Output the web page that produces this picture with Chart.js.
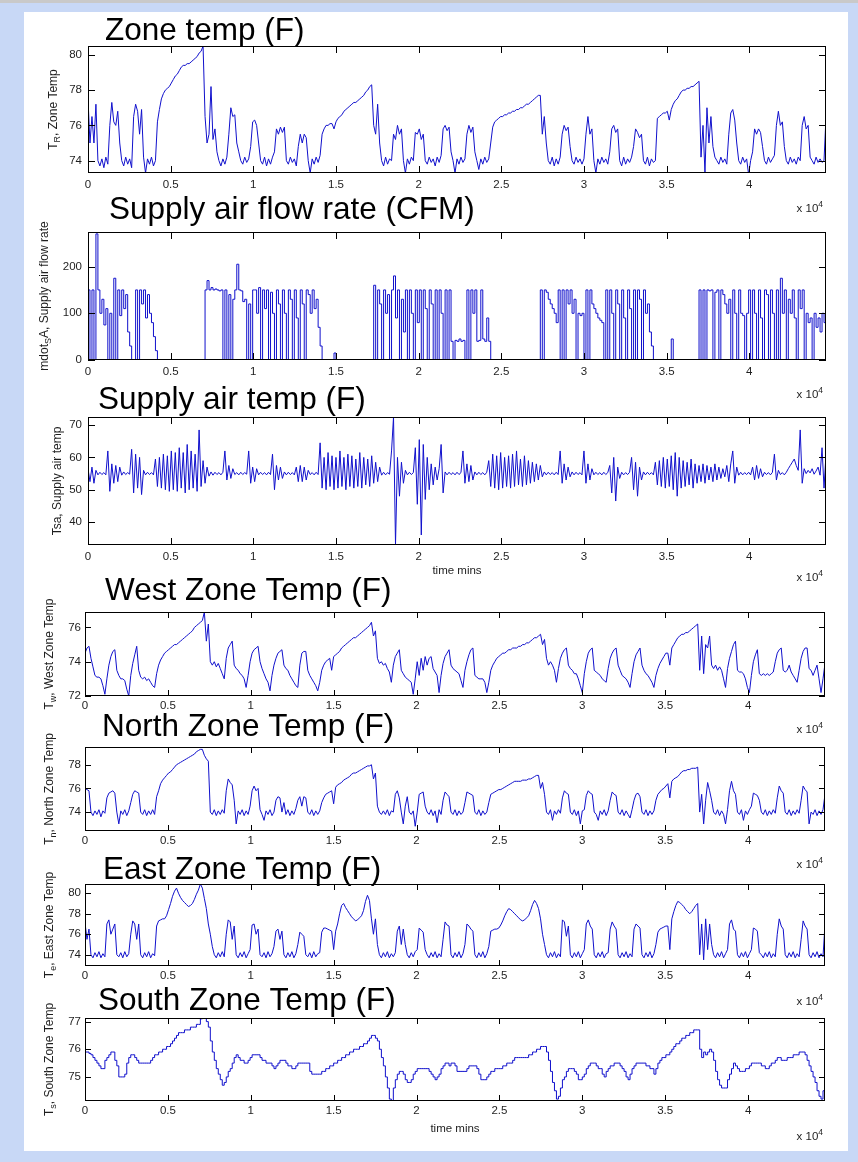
<!DOCTYPE html>
<html>
<head>
<meta charset="utf-8">
<title>Zone and supply air trends</title>
<script src="https://cdn.jsdelivr.net/npm/chart.js@4.4.1/dist/chart.umd.min.js"></script>
<style>
  html, body { margin: 0; padding: 0; }
  body {
    width: 858px; height: 1162px; position: relative; overflow: hidden;
    background: #c8d8f6;
    border-top: 3px solid #c9c9c9; box-sizing: border-box;
  }
  #sheet { position: absolute; left: 24px; top: 9px; width: 824px; height: 1139px; background: #fff; }
  canvas { position: absolute; left: 0; }
</style>
</head>
<body>
<div id="sheet"></div>
<script>
// one sample every 2 hours, 31 days = 44640 minutes
const STEP_MIN = 120;
const X_MAX = 44640;
const xTicks = [0, 5000, 10000, 15000, 20000, 25000, 30000, 35000, 40000];
const xTickLabels = ['0', '0.5', '1', '1.5', '2', '2.5', '3', '3.5', '4'];

const zoneTicks = [74, 76, 78, 80];
const flowTicks = [0, 100, 200];
const satTicks = [40, 50, 60, 70];
const westTicks = [72, 74, 76];
const northTicks = [74, 76, 78];
const eastTicks = [74, 76, 78, 80];
const southTicks = [75, 76, 77];

// one row per day (12 samples), last value is the end point
const zoneTemp = [
  77.5, 75.0, 76.5, 75.0, 77.2, 74.0, 73.7, 74.1, 73.6, 74.2, 73.8, 76.0,
  77.3, 76.2, 76.0, 76.8, 75.0, 74.0, 73.7, 74.2, 73.8, 74.1, 73.6, 76.5,
  77.2, 76.8, 75.5, 76.9, 74.2, 73.3, 74.1, 73.8, 74.2, 73.7, 74.0, 76.2,
  76.9, 77.5, 77.8, 78.0, 78.1, 78.2, 78.4, 78.6, 78.8, 78.9, 79.1, 79.3,
  79.4, 79.4, 79.5, 79.5, 79.6, 79.7, 79.8, 79.9, 80.1, 80.2, 80.5, 76.5,
  75.0, 75.5, 78.2, 75.2, 75.8, 74.5, 74.0, 73.7, 74.1, 73.8, 74.2, 75.5,
  77.0, 76.5, 76.6, 75.0, 74.5, 74.0, 73.8, 74.2, 73.9, 74.1, 74.8, 76.2,
  76.3, 76.0, 75.0, 74.0, 73.8, 74.2, 73.7, 74.1, 73.8, 74.2, 74.5, 75.8,
  75.5, 75.9, 75.6, 75.9, 74.0, 73.8, 74.2, 73.9, 74.1, 73.7, 74.8, 75.5,
  75.0, 75.5, 75.3, 74.0, 73.3, 74.1, 73.8, 74.2, 73.9, 74.3, 75.5, 75.8,
  76.0, 76.0, 76.1, 76.1, 75.8, 76.2, 76.4, 76.5, 76.6, 76.8, 76.9, 77.0,
  77.1, 77.2, 77.3, 77.3, 77.4, 77.5, 77.6, 77.7, 77.9, 78.0, 78.2, 78.3,
  76.0, 75.5, 77.2, 75.0, 74.0, 73.7, 74.2, 73.8, 74.1, 74.0, 75.5, 75.2,
  76.0, 75.5, 75.8, 74.0, 73.3, 74.1, 73.8, 74.2, 74.0, 75.6, 75.5, 75.8,
  75.2, 75.5, 74.0, 73.8, 74.2, 73.9, 74.1, 73.7, 74.2, 73.9, 74.3, 75.8,
  76.0, 75.7, 75.9, 74.5, 74.0, 73.3, 74.1, 73.8, 74.2, 73.9, 74.1, 75.5,
  76.0, 75.6, 75.9, 74.5, 74.0, 73.5, 74.1, 73.8, 74.2, 73.9, 74.1, 75.0,
  75.9, 76.2, 76.3, 76.4, 76.5, 76.5, 76.6, 76.6, 76.7, 76.7, 76.8, 76.8,
  76.9, 76.9, 77.0, 77.0, 77.1, 77.2, 77.2, 77.3, 77.4, 77.5, 77.6, 77.7,
  77.7, 75.5, 76.5, 75.0, 74.0, 73.8, 74.2, 73.7, 74.1, 73.8, 74.2, 75.5,
  76.0, 75.7, 75.9, 74.8, 74.0, 73.8, 74.2, 73.9, 74.1, 73.8, 74.1, 75.5,
  76.5, 75.5, 75.8, 74.0, 73.3, 74.1, 73.8, 74.2, 73.9, 74.1, 73.8, 74.5,
  75.8, 76.0, 75.6, 75.8, 74.0, 73.7, 74.2, 73.8, 74.1, 73.9, 74.2, 74.8,
  75.8, 75.6, 75.3, 75.5, 74.0, 73.8, 74.2, 73.7, 74.1, 73.9, 74.0, 76.4,
  76.5, 76.6, 76.7, 76.7, 76.8, 76.3, 76.9, 77.2, 77.4, 77.5, 77.7, 77.9,
  78.0, 78.0, 78.1, 78.1, 78.2, 78.2, 78.3, 78.4, 78.5, 74.2, 76.0, 73.3,
  77.0, 75.0, 76.5, 74.8, 74.2, 74.0, 73.8, 74.2, 73.9, 74.1, 73.8, 75.5,
  76.7, 76.9, 76.3, 75.0, 74.0, 73.8, 74.2, 73.9, 74.1, 73.2, 74.0, 74.5,
  75.8, 75.5, 75.8, 75.6, 74.8, 74.0, 73.8, 74.2, 73.9, 74.1, 74.3, 76.0,
  76.8, 76.0, 76.2, 74.8, 74.0, 73.8, 74.2, 73.9, 74.1, 73.8, 74.2, 74.0,
  76.0, 76.5, 75.8, 76.0, 74.2, 74.0, 73.8, 74.2, 73.9, 74.1, 73.9, 74.0,
  76.5
];

const supplyFlow = [
  150, 0, 150, 0, 270, 150, 100, 130, 75, 110, 0, 100,
  0, 175, 0, 150, 95, 150, 110, 140, 60, 30, 0, 0,
  150, 0, 150, 120, 150, 90, 140, 100, 80, 50, 20, 0,
  0, 0, 0, 0, 0, 0, 0, 0, 0, 0, 0, 0,
  0, 0, 0, 0, 0, 0, 0, 0, 0, 0, 0, 150,
  170, 150, 155, 150, 152, 150, 148, 150, 0, 150, 0, 140,
  0, 130, 150, 205, 150, 148, 125, 130, 0, 120, 0, 150,
  150, 100, 155, 0, 150, 110, 150, 0, 145, 100, 0, 150,
  120, 0, 150, 100, 0, 150, 130, 0, 150, 90, 0, 150,
  120, 0, 150, 140, 100, 150, 110, 130, 70, 30, 0, 0,
  0, 0, 0, 0, 15, 0, 0, 0, 0, 0, 0, 0,
  0, 0, 0, 0, 0, 0, 0, 0, 0, 0, 0, 0,
  160, 0, 150, 120, 0, 150, 100, 140, 0, 150, 180, 90,
  150, 0, 130, 60, 150, 0, 150, 100, 0, 150, 80, 150,
  0, 150, 110, 0, 150, 120, 0, 150, 0, 150, 100, 0,
  150, 0, 150, 40, 0, 42, 40, 45, 40, 42, 0, 150,
  0, 150, 100, 150, 40, 42, 150, 45, 40, 90, 40, 0,
  0, 0, 0, 0, 0, 0, 0, 0, 0, 0, 0, 0,
  0, 0, 0, 0, 0, 0, 0, 0, 0, 0, 0, 0,
  150, 0, 150, 145, 130, 120, 110, 100, 80, 150, 0, 150,
  0, 150, 120, 150, 100, 130, 0, 100, 95, 100, 0, 150,
  0, 150, 120, 110, 100, 90, 85, 80, 0, 150, 0, 150,
  100, 0, 150, 120, 0, 150, 90, 0, 150, 110, 0, 150,
  0, 150, 130, 0, 150, 100, 120, 60, 30, 0, 0, 0,
  0, 0, 0, 0, 0, 0, 45, 0, 0, 0, 0, 0,
  0, 0, 0, 0, 0, 0, 0, 0, 150, 0, 150, 0,
  150, 148, 150, 0, 145, 150, 0, 150, 140, 120, 100, 130,
  0, 150, 100, 0, 150, 100, 95, 0, 100, 150, 0, 150,
  100, 0, 150, 90, 0, 150, 140, 0, 150, 100, 0, 150,
  0, 175, 100, 150, 0, 130, 100, 150, 90, 0, 150, 110,
  150, 0, 100, 80, 90, 0, 100, 70, 90, 60, 100, 80,
  100
];

const supplyTemp = [
  56.5, 52.5, 57.0, 52.0, 56.0, 54.6, 55.4, 54.7, 55.3, 54.6, 62.0, 49.5,
  58.0, 52.0, 57.5, 52.5, 57.0, 54.5, 55.5, 54.7, 55.3, 54.8, 62.5, 49.0,
  61.0, 50.5, 60.0, 48.5, 56.0, 54.6, 55.4, 54.7, 55.3, 54.6, 59.5, 51.0,
  60.0, 50.5, 61.0, 50.0, 60.5, 49.5, 62.0, 50.0, 61.5, 49.5, 63.0, 50.5,
  61.5, 49.0, 64.0, 50.0, 62.0, 50.5, 61.0, 49.5, 68.5, 51.0, 59.0, 52.0,
  57.0, 54.2, 55.5, 54.5, 55.4, 54.7, 55.3, 54.6, 55.4, 62.0, 53.0, 57.5,
  53.5, 56.5, 54.7, 55.3, 54.6, 55.4, 54.7, 55.3, 54.8, 62.0, 52.0, 57.0,
  52.5, 56.5, 54.6, 55.4, 54.7, 55.3, 54.6, 55.4, 54.7, 61.0, 50.0, 57.5,
  53.0, 57.0, 53.5, 55.5, 54.6, 55.4, 54.7, 55.3, 54.6, 57.0, 52.5, 57.5,
  52.5, 57.0, 53.0, 56.0, 54.7, 55.3, 54.6, 55.4, 54.7, 64.5, 50.5, 60.0,
  50.0, 61.5, 51.0, 60.5, 50.0, 60.0, 50.5, 62.0, 51.0, 60.0, 50.0, 61.0,
  51.0, 60.5, 50.5, 59.5, 51.0, 61.5, 50.5, 60.0, 51.5, 59.5, 51.0, 60.5,
  52.0, 58.5, 52.5, 57.0, 54.5, 55.4, 54.6, 55.3, 54.8, 62.0, 72.5, 33.0,
  60.0, 48.0, 58.5, 52.0, 56.0, 54.6, 55.4, 54.7, 55.3, 63.0, 45.5, 65.5,
  36.0, 64.0, 47.0, 60.0, 50.0, 58.0, 51.5, 57.0, 53.0, 56.5, 64.0, 49.0,
  55.5, 54.6, 55.4, 54.7, 55.3, 54.6, 55.4, 54.7, 55.3, 62.0, 52.0, 58.0,
  52.5, 57.5, 53.0, 55.5, 54.6, 55.4, 54.7, 55.3, 54.6, 55.4, 59.0, 51.0,
  61.0, 50.5, 60.5, 50.0, 61.5, 50.5, 60.0, 51.0, 60.5, 50.5, 61.0, 51.0,
  62.0, 51.5, 59.5, 51.0, 60.5, 51.5, 59.0, 52.0, 58.5, 52.5, 58.0, 53.0,
  57.5, 54.0, 55.5, 54.6, 55.4, 54.7, 55.3, 54.6, 55.4, 54.7, 62.0, 52.0,
  58.0, 53.0, 57.0, 54.0, 55.5, 54.6, 55.4, 54.7, 55.3, 54.6, 62.0, 52.0,
  58.0, 53.0, 56.5, 54.6, 55.4, 54.7, 55.3, 54.6, 55.4, 54.7, 55.3, 57.5,
  49.0, 60.0, 46.5, 57.0, 53.5, 55.4, 54.6, 55.3, 54.7, 55.4, 60.0, 50.0,
  58.5, 48.0, 57.0, 53.0, 55.5, 54.6, 55.4, 54.7, 55.3, 54.6, 58.5, 51.5,
  59.0, 51.0, 60.0, 50.5, 59.5, 51.0, 60.5, 50.0, 61.5, 48.0, 60.0, 50.5,
  59.0, 51.0, 58.5, 51.5, 59.5, 50.5, 58.0, 52.0, 57.5, 52.5, 58.0, 52.0,
  57.5, 53.0, 57.0, 52.5, 58.0, 53.0, 57.0, 53.5, 56.5, 54.0, 57.5, 52.5,
  58.0, 62.0, 52.0, 57.0, 54.5, 55.4, 54.6, 55.3, 54.7, 55.4, 54.6, 57.0,
  53.0, 57.5, 53.5, 56.5, 54.0, 55.4, 54.7, 55.3, 54.6, 55.4, 61.0, 53.0,
  56.0, 54.7, 55.3, 54.6, 55.4, 56.5, 57.5, 58.5, 59.5, 57.5, 56.0, 68.5,
  52.0, 56.5, 55.0, 56.0, 55.2, 56.5, 54.8, 55.8, 57.0, 54.5, 63.0, 50.5,
  61.0
];

const westTemp = [
  74.5, 74.8, 74.9, 74.2, 73.7, 73.2, 73.1, 73.1, 73.0, 72.6, 72.1, 73.0,
  73.8, 74.3, 74.6, 74.7, 73.5, 73.2, 73.0, 73.0, 72.9, 72.4, 72.0, 73.2,
  73.9, 74.4, 74.9, 73.5, 73.1, 73.0, 73.1, 72.9, 73.0, 72.8, 72.6, 72.5,
  73.3, 73.8, 74.1, 74.3, 74.5, 74.6, 74.7, 74.8, 74.9, 75.0, 75.0, 75.1,
  75.2, 75.3, 75.4, 75.5, 75.6, 75.7, 75.8, 76.0, 76.1, 76.2, 76.3, 76.4,
  76.9, 75.2, 76.2, 74.0, 73.8, 74.0, 73.7, 73.9, 73.6, 73.3, 73.0, 74.2,
  74.8, 75.0, 75.2, 73.8, 73.6, 73.5, 73.3, 73.2, 73.0, 72.5, 73.2, 74.0,
  74.5, 74.7, 74.8, 74.9, 74.0, 73.6, 73.3, 73.0, 72.8, 72.3, 73.2, 73.8,
  74.2, 74.5, 74.6, 74.7, 73.8, 73.6, 73.5, 73.2, 73.0, 72.8, 72.6, 72.5,
  73.8, 74.5, 74.6, 74.6, 73.5, 73.2, 73.0, 72.8, 72.6, 72.3, 72.8, 73.5,
  73.8, 74.0, 74.1, 74.2, 73.5, 74.3, 74.4, 74.5, 74.6, 74.8, 74.9, 75.0,
  75.1, 75.2, 75.3, 75.4, 75.4, 75.5, 75.6, 75.7, 75.8, 75.9, 76.0, 76.1,
  76.3, 75.5, 75.8, 74.2, 73.9, 74.0, 73.8, 73.9, 73.6, 73.4, 72.8, 73.8,
  74.3, 74.5, 74.7, 73.5, 73.3, 73.1, 73.0, 72.9, 72.8, 72.1, 73.0, 74.0,
  73.2, 74.2, 73.5, 74.3, 73.8, 74.2, 74.3, 73.6, 73.4, 73.2, 72.2, 73.2,
  73.9, 74.3, 74.5, 74.7, 73.8, 73.6, 73.5, 73.4, 73.3, 72.9, 72.5, 73.5,
  74.0, 74.4, 74.7, 74.8, 73.2, 73.1, 73.0, 73.0, 73.0, 72.8, 72.2, 72.8,
  73.5, 73.8, 74.0, 74.2, 74.3, 74.4, 74.5, 74.5, 74.6, 74.7, 74.7, 74.8,
  74.8, 74.8, 74.9, 74.9, 75.0, 75.0, 75.1, 75.1, 75.2, 75.3, 75.4, 75.4,
  75.5, 75.6, 75.0, 75.3, 74.2, 73.8, 74.0, 73.8, 73.5, 72.8, 73.6, 74.2,
  74.5, 74.7, 74.8, 73.8, 73.6, 73.5, 73.3, 73.3, 73.0, 72.6, 72.2, 73.3,
  74.0, 74.5, 74.7, 74.8, 73.5, 73.4, 73.3, 73.2, 73.0, 72.9, 72.8, 73.6,
  74.2, 74.5, 74.7, 74.8, 73.8, 73.5, 73.2, 73.1, 73.0, 72.8, 72.5, 73.3,
  74.0, 74.4, 74.6, 74.8, 73.8, 73.5, 73.3, 73.2, 73.0, 72.8, 72.5, 73.2,
  73.6, 73.9, 74.1, 74.3, 74.5, 74.5, 73.8, 74.8, 75.0, 75.2, 75.4, 75.5,
  75.6, 75.6, 75.7, 75.7, 75.8, 75.9, 76.0, 76.1, 76.2, 73.5, 75.5, 73.3,
  75.0, 74.8, 75.5, 73.8, 73.6, 73.8, 73.5, 73.7, 73.5, 73.0, 72.5, 73.6,
  74.2, 74.6, 75.0, 75.2, 73.5, 73.4, 73.4, 73.3, 73.0, 72.5, 72.2, 73.2,
  74.0, 74.4, 74.7, 73.3, 73.2, 73.3, 73.2, 73.3, 73.2, 73.3, 73.4, 74.0,
  74.5, 74.7, 74.8, 73.5, 73.4, 73.5, 73.8, 73.4, 73.2, 73.0, 72.8, 73.5,
  74.2, 74.6, 74.8, 74.8, 73.6, 73.5, 73.2, 73.5, 73.8, 73.0, 72.2, 73.0,
  73.9
];

const northTemp = [
  76.0, 75.9, 75.8, 74.0, 73.7, 74.1, 73.8, 74.2, 73.6, 74.1, 73.9, 75.2,
  75.6, 75.7, 75.8, 75.6, 74.0, 73.0, 74.1, 73.8, 74.2, 73.7, 74.1, 74.8,
  75.5, 75.8, 75.7, 75.6, 74.0, 73.8, 74.2, 73.7, 74.1, 73.8, 74.2, 73.8,
  75.3, 75.8, 76.4, 76.7, 76.9, 77.1, 77.3, 77.4, 77.6, 77.8, 78.0, 78.1,
  78.2, 78.3, 78.4, 78.5, 78.6, 78.7, 78.8, 78.9, 79.1, 79.2, 79.3, 79.3,
  78.8, 78.5, 78.3, 74.0, 73.8, 74.2, 73.7, 74.1, 73.8, 74.2, 73.9, 75.8,
  76.8, 76.5, 76.3, 75.0, 73.0, 74.1, 73.8, 74.2, 73.7, 74.1, 73.8, 74.5,
  75.8, 76.2, 75.8, 76.0, 74.2, 73.8, 73.3, 74.1, 73.8, 74.2, 73.7, 74.0,
  75.0, 75.3, 75.2, 74.0, 74.8, 73.8, 74.2, 73.7, 74.1, 73.8, 74.3, 75.0,
  75.3, 74.5, 75.3, 75.2, 74.0, 73.8, 74.2, 73.7, 74.1, 73.8, 74.1, 74.8,
  75.2, 75.5, 75.6, 75.7, 75.8, 74.7, 76.1, 76.3, 76.4, 76.5, 76.7, 76.8,
  76.9, 77.0, 77.2, 77.3, 77.3, 77.4, 77.5, 77.6, 77.7, 77.8, 77.9, 77.9,
  78.0, 76.8, 77.3, 74.5, 74.0, 73.8, 74.1, 73.8, 74.2, 73.7, 74.1, 74.0,
  75.5, 75.8, 75.2, 74.0, 73.0, 74.5, 75.3, 74.0, 73.8, 74.1, 72.8, 74.0,
  75.5, 75.6, 75.7, 74.5, 74.0, 73.8, 74.2, 73.7, 74.1, 73.1, 74.2, 73.8,
  75.0, 75.7, 75.5, 75.3, 74.0, 73.8, 74.2, 73.7, 74.1, 73.8, 74.0, 74.8,
  75.7, 75.6, 75.5, 75.4, 74.0, 73.8, 74.2, 73.7, 74.1, 73.8, 74.0, 74.8,
  75.5, 75.6, 75.7, 75.8, 75.9, 75.9, 76.0, 76.1, 76.2, 76.3, 76.4, 76.5,
  76.6, 76.6, 76.6, 76.6, 76.7, 76.7, 76.7, 76.8, 76.8, 76.9, 77.0, 77.1,
  77.1, 76.0, 76.5, 75.5, 74.0, 73.8, 74.2, 73.3, 74.1, 73.8, 74.2, 73.9,
  75.2, 75.8, 75.6, 75.5, 74.0, 73.8, 74.2, 73.7, 74.1, 73.0, 74.1, 74.2,
  75.4, 75.8, 75.6, 75.5, 74.0, 73.8, 73.3, 74.1, 73.8, 74.2, 73.7, 74.1,
  75.0, 75.7, 75.5, 75.4, 74.0, 73.8, 74.2, 73.7, 74.1, 73.8, 73.5, 74.2,
  75.0, 75.5, 75.6, 75.3, 74.0, 73.8, 74.2, 73.7, 74.1, 73.8, 74.1, 75.0,
  75.5, 75.7, 75.9, 76.0, 76.2, 76.4, 75.2, 76.6, 76.8, 76.9, 77.0, 77.2,
  77.4, 77.5, 77.5, 77.6, 77.6, 77.7, 77.7, 77.7, 77.8, 74.0, 75.5, 73.0,
  75.0, 76.5, 75.8, 75.0, 74.0, 73.8, 74.2, 73.7, 74.1, 73.8, 73.0, 74.2,
  75.8, 76.6, 75.8, 75.5, 74.0, 73.8, 74.2, 73.3, 74.1, 73.8, 74.2, 74.5,
  75.6, 75.5, 75.4, 75.0, 74.0, 73.8, 74.2, 73.7, 74.1, 73.8, 74.2, 73.9,
  75.2, 76.2, 75.8, 75.6, 74.0, 73.8, 74.2, 73.7, 74.1, 73.8, 74.2, 73.9,
  75.0, 76.2, 75.9, 75.7, 73.0, 74.0, 73.8, 74.2, 73.7, 74.1, 73.8, 74.2,
  75.5
];

const eastTemp = [
  77.1, 75.5, 76.5, 74.0, 73.7, 74.2, 73.8, 74.3, 73.7, 74.1, 73.8, 77.0,
  77.4, 76.0, 76.5, 77.0, 74.0, 73.8, 74.2, 73.7, 74.3, 73.8, 74.1, 76.0,
  77.3, 77.0, 75.5, 77.0, 74.0, 73.7, 74.2, 73.8, 74.3, 73.7, 74.1, 73.9,
  76.8, 77.3, 77.4, 77.5, 77.5, 77.8, 78.4, 79.0, 79.7, 80.2, 80.5, 80.0,
  79.6, 79.3, 79.1, 78.9, 78.7, 78.8, 79.0, 79.4, 79.9, 80.3, 80.9, 80.5,
  79.5, 78.5, 77.0, 76.0, 74.8, 74.0, 73.7, 74.2, 73.8, 74.3, 73.8, 76.0,
  77.4, 77.2, 75.5, 76.8, 74.0, 73.7, 74.2, 73.8, 74.3, 73.7, 74.1, 74.5,
  76.9, 77.0, 76.0, 76.5, 74.0, 73.8, 74.2, 73.7, 74.3, 73.8, 74.1, 74.8,
  76.3, 76.5, 75.5, 76.3, 74.0, 73.7, 74.2, 73.8, 74.3, 73.7, 74.1, 75.0,
  76.2, 76.0, 75.8, 74.0, 73.8, 74.2, 73.7, 74.3, 73.8, 74.1, 74.2, 76.2,
  76.6, 76.6, 76.5, 76.4, 76.3, 74.5, 76.3, 77.0, 78.0, 78.8, 79.0, 78.6,
  78.3, 78.0, 77.7, 77.5, 77.3, 77.4, 77.6, 77.8, 78.3, 79.2, 79.8, 79.3,
  77.5, 76.0, 77.5, 75.0, 74.0, 73.7, 74.2, 73.8, 74.3, 73.7, 74.1, 73.8,
  74.2, 76.3, 76.8, 75.0, 76.5, 75.0, 74.0, 73.7, 74.2, 73.8, 74.3, 74.5,
  76.6, 76.4, 76.2, 74.5, 74.0, 73.7, 74.2, 73.8, 74.3, 73.7, 74.1, 73.8,
  75.5, 77.2, 76.9, 76.8, 74.0, 73.7, 74.2, 73.8, 74.3, 73.7, 74.1, 75.0,
  77.0, 76.8, 76.5, 76.3, 74.0, 73.7, 74.2, 73.8, 74.3, 73.7, 74.1, 74.8,
  76.3, 76.4, 76.5, 76.5, 76.6, 76.9, 77.3, 77.8, 78.2, 78.5, 78.4, 78.2,
  78.0, 77.8, 77.6, 77.4, 77.3, 77.4, 77.6, 77.8, 78.3, 78.9, 79.3, 79.0,
  78.5, 77.5, 76.0, 75.0, 74.0, 73.7, 74.2, 73.8, 74.3, 73.7, 74.1, 73.8,
  77.4, 77.2, 75.8, 76.8, 74.0, 73.7, 74.2, 73.8, 74.3, 73.7, 74.1, 74.5,
  77.0, 77.4, 76.8, 76.5, 74.0, 73.7, 74.2, 73.8, 74.3, 73.7, 74.1, 74.2,
  76.5, 77.2, 76.8, 76.5, 74.0, 73.7, 74.2, 73.8, 74.3, 73.7, 74.1, 73.8,
  76.5, 77.0, 76.8, 76.6, 74.0, 73.7, 74.2, 73.8, 74.3, 73.7, 74.1, 75.0,
  76.2, 76.5, 76.6, 76.7, 76.8, 76.8, 74.5, 77.5, 78.2, 78.8, 79.2, 79.1,
  78.9, 78.7, 78.4, 78.2, 78.0, 78.2, 78.5, 78.8, 79.0, 74.0, 77.0, 73.5,
  77.5, 74.5, 77.0, 75.0, 74.0, 73.7, 74.2, 73.8, 74.3, 73.7, 74.1, 74.5,
  77.0, 77.4, 76.5, 76.3, 74.0, 73.7, 74.2, 73.8, 74.3, 73.7, 74.1, 74.5,
  76.6, 76.5, 76.3, 74.2, 74.0, 73.7, 74.2, 73.8, 74.3, 73.7, 74.1, 73.8,
  76.0, 77.5, 76.8, 76.5, 74.0, 73.7, 74.2, 73.8, 74.3, 73.7, 74.1, 73.8,
  75.5, 77.3, 76.8, 76.5, 74.0, 73.7, 74.2, 73.8, 74.3, 73.7, 74.1, 73.8,
  77.0
];

const southTemp = [
  75.9, 75.9, 75.85, 75.8, 75.7, 75.6, 75.5, 75.4, 75.3, 75.3, 75.6, 75.7,
  75.8, 75.9, 75.9, 75.6, 75.4, 75.0, 75.0, 75.0, 75.1, 75.5, 75.7, 75.8,
  75.8, 75.7, 75.6, 75.5, 75.5, 75.5, 75.5, 75.5, 75.5, 75.6, 75.7, 75.8,
  75.8, 75.9, 75.9, 76.0, 76.0, 76.1, 76.1, 76.2, 76.3, 76.4, 76.5, 76.6,
  76.6, 76.6, 76.7, 76.7, 76.7, 76.8, 76.8, 76.8, 76.9, 76.9, 77.1, 77.2,
  77.2, 77.0, 76.8, 76.3, 75.9, 75.6, 75.3, 75.1, 74.9, 74.7, 74.8, 75.0,
  75.2, 75.3, 75.5, 75.7, 75.8, 75.7, 75.6, 75.6, 75.5, 75.5, 75.6, 75.7,
  75.8, 75.8, 75.8, 75.8, 75.7, 75.6, 75.6, 75.5, 75.5, 75.5, 75.4, 75.3,
  75.4, 75.5, 75.6, 75.6, 75.6, 75.5, 75.4, 75.4, 75.3, 75.3, 75.4, 75.5,
  75.5, 75.5, 75.5, 75.5, 75.5, 75.2, 75.1, 75.1, 75.1, 75.1, 75.1, 75.2,
  75.2, 75.3, 75.3, 75.4, 75.4, 75.5, 75.5, 75.6, 75.6, 75.7, 75.7, 75.8,
  75.8, 75.9, 75.9, 76.0, 76.0, 76.0, 76.1, 76.1, 76.2, 76.2, 76.3, 76.4,
  76.5, 76.5, 76.4, 76.3, 76.0, 75.7, 75.4, 75.0, 74.6, 74.2, 74.1, 74.6,
  74.9, 75.1, 75.2, 75.2, 75.1, 74.9, 74.8, 74.8, 74.9, 75.1, 75.2, 75.3,
  75.3, 75.3, 75.3, 75.3, 75.3, 75.2, 75.1, 75.0, 74.9, 75.0, 75.1, 75.3,
  75.4, 75.5, 75.5, 75.4, 75.5, 75.5, 75.4, 75.2, 75.2, 75.2, 75.2, 75.2,
  75.3, 75.4, 75.4, 75.4, 75.4, 75.3, 75.1, 74.9, 74.9, 74.9, 75.0, 75.1,
  75.2, 75.2, 75.3, 75.3, 75.3, 75.3, 75.4, 75.4, 75.5, 75.5, 75.5, 75.6,
  75.7, 75.7, 75.7, 75.7, 75.7, 75.7, 75.7, 75.8, 75.8, 75.9, 75.9, 76.0,
  76.0, 76.1, 76.1, 76.1, 75.9, 75.6, 75.2, 74.8, 74.5, 74.2, 74.3, 74.6,
  74.9, 75.0, 75.2, 75.3, 75.3, 75.3, 75.2, 75.1, 74.9, 74.9, 75.0, 75.1,
  75.3, 75.4, 75.5, 75.5, 75.5, 75.4, 75.3, 75.3, 75.1, 75.0, 75.2, 75.3,
  75.4, 75.4, 75.5, 75.5, 75.5, 75.4, 75.3, 75.2, 75.0, 74.9, 75.1, 75.3,
  75.4, 75.5, 75.5, 75.5, 75.5, 75.5, 75.4, 75.4, 75.3, 75.3, 75.1, 75.3,
  75.5, 75.6, 75.7, 75.7, 75.8, 75.8, 75.9, 76.0, 76.1, 76.2, 76.2, 76.3,
  76.4, 76.4, 76.5, 76.5, 76.6, 76.6, 76.7, 76.7, 76.7, 76.0, 75.7, 75.9,
  75.8, 75.9, 76.0, 75.9, 75.6, 75.2, 74.9, 74.7, 74.6, 74.6, 74.6, 74.9,
  75.1, 75.3, 75.5, 75.4, 75.3, 75.2, 75.2, 75.2, 75.3, 75.3, 75.4, 75.5,
  75.5, 75.5, 75.5, 75.5, 75.4, 75.4, 75.3, 75.3, 75.4, 75.5, 75.5, 75.6,
  75.7, 75.7, 75.6, 75.6, 75.6, 75.7, 75.7, 75.7, 75.8, 75.8, 75.8, 75.9,
  75.9, 75.9, 75.8, 75.6, 75.4, 75.2, 75.0, 74.8, 74.5, 74.3, 74.2, 74.5,
  74.9
];

const FONT_FAMILY = '"Liberation Sans", Arial, Helvetica, sans-serif';
const LINE_COLOR = '#1010cc';
const TEXT_COLOR = '#1e1e1e';
const TICK_FONT = { family: FONT_FAMILY, size: 11.5 };

// box = [left, top, right, bottom] of each axes in page pixels
const panels = [
  { title: 'Zone temp (F)', series: zoneTemp, yMin: 73.3, yMax: 80.5, yTicks: zoneTicks,
    yLabel: ['T', 'R', ', Zone Temp'], box: [88, 43, 826, 170], titleAt: [105, 37],
    labelX: 57, multY: 209, tick: 7, xPad: 5, yPad: 6, stepped: false },
  { title: 'Supply air flow rate (CFM)', series: supplyFlow, yMin: 0, yMax: 274, yTicks: flowTicks,
    yLabel: ['mdot', 'S', 'A, Supply air flow rate'], box: [88, 229, 826, 357], titleAt: [109, 216],
    labelX: 47.5, multY: 395, tick: 7, xPad: 5, yPad: 6, stepped: true },
  { title: 'Supply air temp (F)', series: supplyTemp, yMin: 32.9, yMax: 72.5, yTicks: satTicks,
    yLabel: ['Tsa, Supply air temp', '', ''], box: [88, 414, 826, 542], titleAt: [98, 406],
    labelX: 60.5, multY: 578, tick: 7, xPad: 5, yPad: 6, xTitleY: 568, stepped: false },
  { title: 'West Zone Temp (F)', series: westTemp, yMin: 72, yMax: 76.9, yTicks: westTicks,
    yLabel: ['T', 'w', ', West Zone Temp'], box: [85, 609, 825, 693], titleAt: [105, 597],
    labelX: 53, multY: 730, tick: 6, xPad: 3, yPad: 4, stepped: false },
  { title: 'North Zone Temp (F)', series: northTemp, yMin: 72.4, yMax: 79.5, yTicks: northTicks,
    yLabel: ['T', 'n', ', North Zone Temp'], box: [85, 744, 825, 828], titleAt: [102, 733],
    labelX: 53, multY: 865, tick: 6, xPad: 3, yPad: 4, stepped: false },
  { title: 'East Zone Temp (F)', series: eastTemp, yMin: 72.9, yMax: 80.9, yTicks: eastTicks,
    yLabel: ['T', 'e', ', East Zone Temp'], box: [85, 881, 825, 963], titleAt: [103, 876],
    labelX: 53, multY: 1002, tick: 6, xPad: 3, yPad: 4, stepped: false },
  { title: 'South Zone Temp (F)', series: southTemp, yMin: 74.13, yMax: 77.13, yTicks: southTicks,
    yLabel: ['T', 's', ', South Zone Temp'], box: [85, 1015, 825, 1098], titleAt: [98, 1007],
    labelX: 53, multY: 1137, tick: 6, xPad: 3, yPad: 4, xTitleY: 1126, stepped: true }
];

// MATLAB look: closed box, inward ticks, big title, subscripted y label, x 10^4 note
const matlabFrame = {
  id: 'matlabFrame',
  afterDraw(chart, args, opts) {
    const { ctx, chartArea: a } = chart;
    const xs = chart.scales.x, ys = chart.scales.y;
    const p = opts.panel, off = opts.canvasTop;
    ctx.save();
    ctx.strokeStyle = '#000';
    ctx.lineWidth = 1;
    ctx.strokeRect(a.left + 0.5, a.top + 0.5, a.right - a.left - 1, a.bottom - a.top - 1);

    ctx.beginPath();
    xTicks.forEach(v => {
      const px = Math.round(xs.getPixelForValue(v)) + 0.5;
      ctx.moveTo(px, a.bottom); ctx.lineTo(px, a.bottom - p.tick);
      ctx.moveTo(px, a.top); ctx.lineTo(px, a.top + p.tick);
    });
    p.yTicks.forEach(v => {
      const py = Math.round(ys.getPixelForValue(v)) + 0.5;
      ctx.moveTo(a.left, py); ctx.lineTo(a.left + p.tick, py);
      ctx.moveTo(a.right, py); ctx.lineTo(a.right - p.tick, py);
    });
    ctx.stroke();

    ctx.fillStyle = '#000';
    ctx.textAlign = 'left';
    ctx.textBaseline = 'alphabetic';
    ctx.font = '31.5px ' + FONT_FAMILY;
    ctx.fillText(p.title, p.titleAt[0], p.titleAt[1] - off);

    // rotated y label with optional subscript
    ctx.fillStyle = TEXT_COLOR;
    const [main, sub, rest] = p.yLabel;
    const bigF = '12px ' + FONT_FAMILY, subF = '9px ' + FONT_FAMILY;
    ctx.font = bigF; const w1 = ctx.measureText(main).width, w3 = ctx.measureText(rest).width;
    ctx.font = subF; const w2 = sub ? ctx.measureText(sub).width : 0;
    ctx.save();
    ctx.translate(p.labelX, (a.top + a.bottom) / 2);
    ctx.rotate(-Math.PI / 2);
    let tx = -(w1 + w2 + w3) / 2;
    ctx.font = bigF; ctx.fillText(main, tx, 0); tx += w1;
    if (sub) { ctx.font = subF; ctx.fillText(sub, tx, 3); tx += w2; }
    ctx.font = bigF; ctx.fillText(rest, tx, 0);
    ctx.restore();

    // x 10^4 multiplier
    ctx.textAlign = 'right';
    ctx.font = '8.5px ' + FONT_FAMILY;
    const supW = ctx.measureText('4').width;
    ctx.fillText('4', 823, p.multY - off - 5);
    ctx.font = '11.5px ' + FONT_FAMILY;
    ctx.fillText('x 10', 823 - supW, p.multY - off);

    if (p.xTitleY) {
      ctx.textAlign = 'center';
      ctx.textBaseline = 'middle';
      ctx.fillText('time mins', (a.left + a.right) / 2, p.xTitleY - off);
    }
    ctx.restore();
  }
};

function makePanel(p) {
  const [left, top, right, bottom] = p.box;
  const canvasTop = top - 50;
  const canvasH = bottom - top + 100;
  const canvas = document.createElement('canvas');
  canvas.width = 858;
  canvas.height = canvasH;
  canvas.style.top = canvasTop + 'px';
  canvas.style.width = '858px';
  canvas.style.height = canvasH + 'px';
  document.body.appendChild(canvas);

  return new Chart(canvas, {
    type: 'line',
    data: {
      datasets: [{
        data: p.series.map((v, i) => ({ x: i * STEP_MIN, y: v })),
        borderColor: LINE_COLOR,
        borderWidth: 1,
        pointRadius: 0,
        tension: 0,
        stepped: p.stepped,
        fill: false
      }]
    },
    options: {
      responsive: false,
      animation: false,
      devicePixelRatio: 1,
      parsing: false,
      normalized: true,
      events: [],
      layout: { padding: { left: 0, top: top - canvasTop, right: 858 - right, bottom: 0 } },
      plugins: {
        legend: { display: false },
        tooltip: { enabled: false },
        matlabFrame: { panel: p, canvasTop: canvasTop }
      },
      scales: {
        x: {
          type: 'linear', min: 0, max: X_MAX,
          grid: { display: false, drawTicks: false }, border: { display: false },
          afterBuildTicks: s => { s.ticks = xTicks.map(v => ({ value: v })); },
          afterFit: s => { s.height = 50; },
          ticks: {
            autoSkip: false, maxRotation: 0, padding: p.xPad,
            color: TEXT_COLOR, font: TICK_FONT,
            callback: v => xTickLabels[xTicks.indexOf(v)]
          }
        },
        y: {
          type: 'linear', min: p.yMin, max: p.yMax,
          grid: { display: false, drawTicks: false }, border: { display: false },
          afterBuildTicks: s => { s.ticks = p.yTicks.map(v => ({ value: v })); },
          afterFit: s => { s.width = left; },
          ticks: {
            autoSkip: false, padding: p.yPad,
            color: TEXT_COLOR, font: TICK_FONT,
            callback: v => String(v)
          }
        }
      }
    },
    plugins: [matlabFrame]
  });
}

panels.forEach(makePanel);
</script>
</body>
</html>
